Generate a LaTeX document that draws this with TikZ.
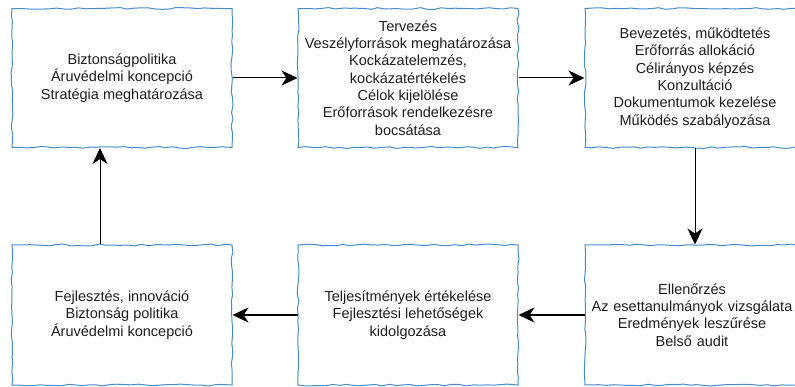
\documentclass[tikz,border=0pt]{standalone}
\usepackage{fontspec}
\setmainfont{Liberation Sans}
\usetikzlibrary{decorations.pathmorphing,arrows.meta}
\definecolor{boxblue}{RGB}{70,140,205}
\definecolor{txt}{RGB}{30,30,30}
\tikzset{
  sketchbox/.style={draw=boxblue, line width=1pt, fill=white, text=txt,
    decorate, decoration={random steps, segment length=7pt, amplitude=0.9pt},
    minimum width=220pt, minimum height=139pt, inner sep=0pt,
    align=center, font=\fontsize{14.5}{17.3}\selectfont},
  flow/.style={draw=black, line width=1pt, -{Stealth[length=16pt,width=15pt,inset=5pt]}}
}
\begin{document}
\begin{tikzpicture}[x=1pt,y=-1pt]
\useasboundingbox (0,0) rectangle (795,387);
\fill[white] (0,0) rectangle (795,387);
\clip (0,0) rectangle (795,387);
\pgfmathsetseed{7}
\node[sketchbox] (b1) at (122,78) {Biztonságpolitika\\Áruvédelmi koncepció\\Stratégia meghatározása};
\node[sketchbox] (b2) at (408,78) {Tervezés\\Veszélyforrások meghatározása\\Kockázatelemzés,\\kockázatértékelés\\Célok kijelölése\\Erőforrások rendelkezésre\\bocsátása};
\node[sketchbox] (b3) at (695,78) {Bevezetés, működtetés\\Erőforrás allokáció\\Célirányos képzés\\Konzultáció\\Dokumentumok kezelése\\Működés szabályozása};
\node[sketchbox, minimum height=140pt] (b4) at (122,315) {Fejlesztés, innováció\\Biztonság politika\\Áruvédelmi koncepció};
\node[sketchbox, minimum height=140pt] (b5) at (408,315) {Teljesítmények értékelése\\Fejlesztési lehetőségek\\kidolgozása};
\node[sketchbox, minimum height=140pt, text width=218pt, xshift=0pt] (b6) at (695,315) {\hspace*{-6pt}Ellenőrzés\\\hspace*{-6pt}Az esettanulmányok vizsgálata\\\hspace*{-6pt}Eredmények leszűrése\\\hspace*{-6pt}Belső audit};
\draw[flow] (b1) -- (b2);
\draw[flow] (b2) -- (b3);
\draw[flow] (b3) -- (b6);
\draw[flow] (b6) -- (b5);
\draw[flow] (b5) -- (b4);
\draw[flow] ([xshift=-22pt]b4.north) -- ([xshift=-22pt]b1.south);
\end{tikzpicture}
\end{document}
